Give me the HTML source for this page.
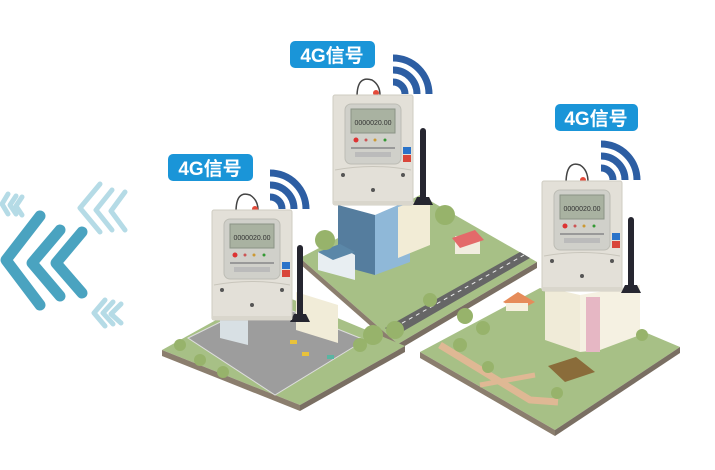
<!DOCTYPE html>
<html><head><meta charset="utf-8"><style>
html,body{margin:0;padding:0;background:#fff;width:715px;height:470px;overflow:hidden}
svg{display:block}
text{font-family:"Liberation Sans","Noto Sans CJK SC",sans-serif}
</style></head><body>
<svg width="715" height="470" viewBox="0 0 715 470" xmlns="http://www.w3.org/2000/svg">
<defs>
<g id="meter">
  <rect x="0" y="0" width="80" height="110" rx="2" fill="#e3e0d8" stroke="#cfccc2"/>
  <rect x="12" y="9" width="56" height="60" rx="6" fill="#d0d0ca" stroke="#bdbdb5"/>
  <rect x="18" y="14" width="44" height="24" fill="#a9b2a1" stroke="#8a9385"/>
  <text x="40" y="30" font-size="7" text-anchor="middle" fill="#333">0000020.00</text>
  <circle cx="23" cy="45" r="2.5" fill="#d33"/><circle cx="33" cy="45" r="1.5" fill="#c55"/><circle cx="42" cy="45" r="1.5" fill="#c93"/><circle cx="52" cy="45" r="1.5" fill="#393"/>
  <rect x="18" y="52" width="44" height="2" fill="#999"/>
  <rect x="22" y="57" width="36" height="5" fill="#bbb"/>
  <rect x="70" y="52" width="8" height="7" fill="#2a73c9"/><rect x="70" y="60" width="8" height="7" fill="#d9463a"/>
  <path d="M2 75 Q40 68 78 75" stroke="#c8c5bb" fill="none"/>
  <circle cx="10" cy="80" r="2" fill="#555"/><circle cx="70" cy="80" r="2" fill="#555"/><circle cx="40" cy="95" r="2" fill="#555"/>
  <rect x="0" y="106" width="80" height="4" fill="#d9d6cc"/>
</g>
<g id="wifi">
  <path d="M0 0 A12 12 0 0 1 12 12" stroke="#2d5ea3" stroke-width="7" fill="none"/>
  <path d="M0 -12 A24 24 0 0 1 24 12" stroke="#2d5ea3" stroke-width="7" fill="none"/>
  <path d="M0 -24 A36 36 0 0 1 36 12" stroke="#2d5ea3" stroke-width="7" fill="none"/>
</g>
</defs>

<g fill="none" stroke-linecap="round" stroke-linejoin="round">
  <g stroke="#4aa3c0" stroke-width="11">
    <path d="M40 216 L6 260 L40 305"/><path d="M60 230 L32 263 L60 296"/><path d="M82 232 L56 263 L82 293"/>
  </g>
  <g stroke="#b5dbe6" stroke-width="5">
    <path d="M100 184 L80 208 L100 232"/><path d="M112 190 L96 210 L112 230"/><path d="M125 192 L111 211 L125 230"/>
    <path d="M8 194 L2 204 L8 214"/><path d="M16 196 L10 205 L16 214"/><path d="M22 197 L16 206 L22 215"/>
    <path d="M105 300 L94 313 L105 326"/><path d="M113 302 L103 313 L113 324"/><path d="M121 304 L111 314 L121 323"/>
  </g>
</g>

<path d="M300 258 L420 195 L537 262 L398 344 Z" fill="#a7c086"/>
<path d="M300 258 L398 344 L398 350 L300 264 Z" fill="#8b7e6e"/>
<path d="M398 344 L537 262 L537 268 L398 350 Z" fill="#7a6f63"/>
<path d="M385 328 L520 252 L530 258 L395 336 Z" fill="#666"/>
<path d="M388 331 L524 255" stroke="#eee" stroke-dasharray="4 4" stroke-width="1"/>
<path d="M338 205 L375 215 L375 275 L338 265 Z" fill="#557d9e"/>
<path d="M375 215 L410 200 L410 262 L375 275 Z" fill="#8fb8d8"/>
<path d="M398 207 L430 197 L430 245 L398 258 Z" fill="#f2ecd6"/>
<path d="M318 252 L340 246 L355 255 L355 280 L318 270 Z" fill="#e8eef2"/>
<path d="M318 252 L340 244 L355 252 L333 260 Z" fill="#5b87a8"/>
<rect x="455" y="236" width="25" height="18" fill="#f1eddf"/><path d="M452 238 L475 230 L484 240 L460 248Z" fill="#e36a6a"/>
<circle cx="445" cy="215" r="10" fill="#97b36b"/><circle cx="395" cy="330" r="9" fill="#97b36b"/><circle cx="430" cy="300" r="7" fill="#97b36b"/>
<circle cx="325" cy="240" r="10" fill="#97b36b"/>

<path d="M162 350 L270 290 L405 346 L300 405 Z" fill="#a7c086"/>
<path d="M162 350 L300 405 L300 411 L162 356 Z" fill="#8b7e6e"/>
<path d="M300 405 L405 346 L405 352 L300 411 Z" fill="#7a6f63"/>
<path d="M188 338 L265 300 L365 340 L275 395 Z" fill="#9d9d9d" stroke="#ddd"/>
<path d="M220 305 L248 312 L248 345 L220 338 Z" fill="#d8e0e4"/>
<path d="M296 292 L338 305 L338 343 L296 330 Z" fill="#f1ecd8"/>
<circle cx="180" cy="345" r="6" fill="#97b36b"/><circle cx="200" cy="360" r="6" fill="#97b36b"/><circle cx="223" cy="372" r="6" fill="#97b36b"/>
<circle cx="373" cy="335" r="10" fill="#97b36b"/><circle cx="360" cy="345" r="7" fill="#97b36b"/>
<rect x="290" y="340" width="7" height="4" fill="#e9c23a"/><rect x="302" y="352" width="7" height="4" fill="#e9c23a"/><rect x="327" y="355" width="7" height="4" fill="#59b5a2"/>

<path d="M420 352 L540 288 L680 347 L555 430 Z" fill="#a7c086"/>
<path d="M420 352 L555 430 L555 436 L420 358 Z" fill="#8b7e6e"/>
<path d="M555 430 L680 347 L680 353 L555 436 Z" fill="#7a6f63"/>
<path d="M440 345 L530 400 L558 402" stroke="#dfb894" stroke-width="7" fill="none"/>
<path d="M480 385 L535 375" stroke="#dfb894" stroke-width="5" fill="none"/>
<path d="M548 366 L576 357 L595 372 L565 382 Z" fill="#8a6c3a"/>
<path d="M545 287 L580 295 L580 352 L545 340 Z" fill="#f0ebd8"/>
<path d="M580 295 L640 285 L640 335 L600 350 L580 352 Z" fill="#f5f1e2"/>
<rect x="586" y="297" width="14" height="55" fill="#e6b7c4"/>
<path d="M503 302 L518 292 L535 302 L520 310 Z" fill="#e68c5a"/><rect x="506" y="303" width="22" height="8" fill="#f5f0de"/>
<circle cx="465" cy="316" r="8" fill="#97b36b"/><circle cx="483" cy="328" r="7" fill="#97b36b"/><circle cx="488" cy="367" r="6" fill="#97b36b"/><circle cx="460" cy="345" r="7" fill="#97b36b"/><circle cx="642" cy="335" r="6" fill="#97b36b"/><circle cx="557" cy="393" r="6" fill="#97b36b"/>

<g fill="#262630">
  <rect x="297" y="245" width="6" height="75" rx="3"/><path d="M290 322 L310 322 L306 314 L294 314Z"/>
  <rect x="420" y="128" width="6" height="75" rx="3"/><path d="M413 205 L433 205 L429 197 L417 197Z"/>
  <rect x="628" y="217" width="6" height="75" rx="3"/><path d="M621 293 L641 293 L637 285 L625 285Z"/>
</g>

<g fill="none" stroke="#444" stroke-width="1.5">
  <path d="M236 212 Q236 190 250 195 Q258 200 258 210"/>
  <path d="M357 97 Q357 75 372 80 Q380 85 380 95"/>
  <path d="M566 184 Q566 160 580 165 Q588 170 588 182"/>
</g>
<circle cx="255" cy="209" r="3" fill="#e34a3a"/><circle cx="376" cy="93" r="3" fill="#e34a3a"/><circle cx="583" cy="180" r="3" fill="#e34a3a"/>
<use href="#meter" transform="translate(212,210)"/>
<use href="#meter" transform="translate(333,95)"/>
<use href="#meter" transform="translate(542,181)"/>

<use href="#wifi" transform="translate(270,197)"/>
<use href="#wifi" transform="translate(393,82)"/>
<use href="#wifi" transform="translate(601,168)"/>

<g>
  <rect x="168" y="154" width="85" height="27" rx="5" fill="#1a95d8"/>
  <text x="210" y="175" font-size="19" font-weight="bold" fill="#fff" text-anchor="middle">4G信号</text>
  <rect x="290" y="41" width="85" height="27" rx="5" fill="#1a95d8"/>
  <text x="332" y="62" font-size="19" font-weight="bold" fill="#fff" text-anchor="middle">4G信号</text>
  <rect x="555" y="104" width="83" height="27" rx="5" fill="#1a95d8"/>
  <text x="596" y="125" font-size="19" font-weight="bold" fill="#fff" text-anchor="middle">4G信号</text>
</g>
</svg>
</body></html>
